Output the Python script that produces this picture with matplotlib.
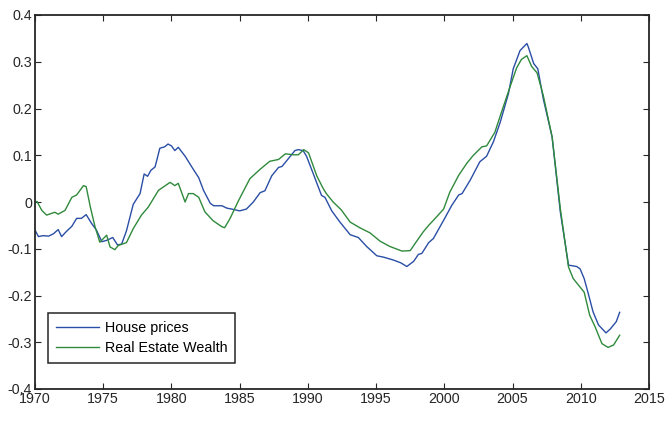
import matplotlib
matplotlib.use("Agg")
import matplotlib.pyplot as plt
import numpy as np

# House prices (year, value)
hp_years = [1970.0, 1970.25, 1970.6, 1971.0, 1971.35, 1971.7, 1971.95, 1972.3, 1972.7,
            1973.05, 1973.4, 1973.75, 1974.15, 1974.5, 1974.9, 1975.25, 1975.7, 1976.05,
            1976.35, 1976.7, 1977.2, 1977.7, 1978.0, 1978.25, 1978.5, 1978.8, 1979.15,
            1979.5, 1979.75, 1980.0, 1980.25, 1980.5, 1981.0, 1981.6, 1982.0, 1982.35,
            1982.85, 1983.1, 1983.7, 1984.05, 1984.55, 1985.0, 1985.5, 1986.0, 1986.5,
            1986.85, 1987.35, 1987.85, 1988.1, 1988.55, 1989.05, 1989.3, 1989.65, 1989.9,
            1990.4, 1991.0, 1991.25, 1991.75, 1992.35, 1993.1, 1993.7, 1994.3, 1995.05,
            1995.55, 1996.25, 1996.8, 1997.25, 1997.75, 1998.1, 1998.35, 1998.85, 1999.2,
            1999.95, 2000.55, 2001.05, 2001.3, 2001.9, 2002.6, 2003.1, 2003.6, 2004.1,
            2004.7, 2005.05, 2005.55, 2006.05, 2006.15, 2006.55, 2006.85, 2007.25, 2007.9,
            2008.5, 2009.1, 2009.7, 2009.95, 2010.25, 2010.55, 2010.9, 2011.3, 2011.85,
            2012.15, 2012.6, 2012.85]
hp_values = [-0.060, -0.074, -0.072, -0.073, -0.068, -0.059, -0.074, -0.063, -0.052,
             -0.035, -0.035, -0.027, -0.046, -0.060, -0.085, -0.082, -0.076, -0.092,
             -0.090, -0.062, -0.005, 0.018, 0.060, 0.055, 0.068, 0.075, 0.115,
             0.118, 0.124, 0.120, 0.110, 0.117, 0.098, 0.070, 0.052, 0.025,
             -0.003, -0.008, -0.008, -0.013, -0.016, -0.019, -0.015, 0.000, 0.020,
             0.024, 0.056, 0.074, 0.076, 0.092, 0.110, 0.112, 0.110, 0.098,
             0.060, 0.014, 0.010, -0.019, -0.043, -0.070, -0.076, -0.095, -0.115,
             -0.118, -0.124, -0.130, -0.138, -0.127, -0.112, -0.110, -0.087, -0.078,
             -0.039, -0.007, 0.015, 0.018, 0.047, 0.086, 0.098, 0.129, 0.171,
             0.232, 0.285, 0.324, 0.339, 0.332, 0.296, 0.285, 0.221, 0.139,
             -0.021, -0.135, -0.138, -0.143, -0.164, -0.196, -0.235, -0.263, -0.280,
             -0.272, -0.256, -0.236]

# Real Estate Wealth (year, value)
rew_years = [1970.0, 1970.15, 1970.5, 1970.85, 1971.45, 1971.7, 1972.2, 1972.7, 1973.05,
             1973.55, 1973.75, 1974.05, 1974.4, 1974.75, 1975.25, 1975.5, 1975.85, 1976.1,
             1976.7, 1977.2, 1977.8, 1978.3, 1979.05, 1979.9, 1980.25, 1980.5, 1981.0,
             1981.25, 1981.6, 1982.0, 1982.45, 1983.05, 1983.7, 1983.9, 1984.3, 1984.9,
             1985.75, 1986.5, 1987.2, 1987.85, 1988.35, 1988.95, 1989.3, 1989.7, 1990.05,
             1990.65, 1991.1, 1991.35, 1991.85, 1992.45, 1993.1, 1993.8, 1994.55, 1995.3,
             1996.0, 1996.9, 1997.5, 1997.85, 1998.45, 1998.85, 1999.3, 1999.95, 2000.4,
             2001.05, 2001.65, 2002.1, 2002.75, 2003.1, 2003.7, 2004.3, 2004.8, 2005.3,
             2005.65, 2006.05, 2006.4, 2006.8, 2007.25, 2007.9, 2008.5, 2009.1, 2009.45,
             2009.95, 2010.25, 2010.65, 2011.05, 2011.55, 2012.0, 2012.4, 2012.85]
rew_values = [0.000, 0.001, -0.018, -0.028, -0.022, -0.026, -0.018, 0.010, 0.015,
              0.035, 0.033, -0.010, -0.053, -0.086, -0.071, -0.096, -0.102, -0.093,
              -0.087, -0.057, -0.028, -0.011, 0.025, 0.042, 0.035, 0.040, 0.000,
              0.018, 0.018, 0.010, -0.021, -0.040, -0.053, -0.055, -0.035, 0.002,
              0.050, 0.070, 0.087, 0.091, 0.103, 0.101, 0.101, 0.112, 0.105,
              0.056, 0.030, 0.018, 0.000, -0.017, -0.043, -0.055, -0.066, -0.084,
              -0.095, -0.105, -0.104, -0.089, -0.064, -0.050, -0.036, -0.015, 0.021,
              0.057, 0.083, 0.099, 0.118, 0.120, 0.149, 0.202, 0.245, 0.287,
              0.305, 0.313, 0.290, 0.276, 0.228, 0.139, -0.014, -0.139, -0.164,
              -0.182, -0.193, -0.242, -0.267, -0.303, -0.311, -0.306, -0.285]

x_ticks = [1970, 1975, 1980, 1985, 1990, 1995, 2000, 2005, 2010, 2015]
y_ticks = [-0.4, -0.3, -0.2, -0.1, 0, 0.1, 0.2, 0.3, 0.4]
y_tick_labels = ["-0.4", "-0.3", "-0.2", "-0.1", "0", "0.1", "0.2", "0.3", "0.4"]

plt.rcParams['font.family'] = ['Liberation Sans', 'DejaVu Sans']

fig = plt.figure(figsize=(6.66, 4.22), dpi=100)
ax = fig.add_axes([35/666, 33/422, (649-35)/666, (389-15)/422])

blue = "#2a4ea6"
green = "#2f8a3c"
ax.plot(hp_years, hp_values, color=blue, lw=1.0, label="House prices")
ax.plot(rew_years, rew_values, color=green, lw=1.0, label="Real Estate Wealth")

ax.set_xlim(1970, 2015)
ax.set_ylim(-0.4, 0.4)
ax.set_xticks(x_ticks)
ax.set_xticklabels([str(t) for t in x_ticks])
ax.set_yticks(y_ticks)
ax.set_yticklabels(y_tick_labels)

for s in ax.spines.values():
    s.set_color("#262626")
    s.set_linewidth(1.3)
ax.tick_params(direction="in", top=True, right=True, length=4, width=0.8,
               color="#262626", labelsize=10.3, labelcolor="#262626", pad=2)

leg = ax.legend(loc="lower left", bbox_to_anchor=((48-35)/614, (389-363)/374),
                frameon=True, fancybox=False, framealpha=1, edgecolor="#262626",
                fontsize=10.3, handlelength=3.0, borderpad=0.55, labelspacing=0.45,
                handletextpad=0.4, borderaxespad=0)
leg.get_frame().set_linewidth(1.1)

fig.savefig("out.png", dpi=100)
